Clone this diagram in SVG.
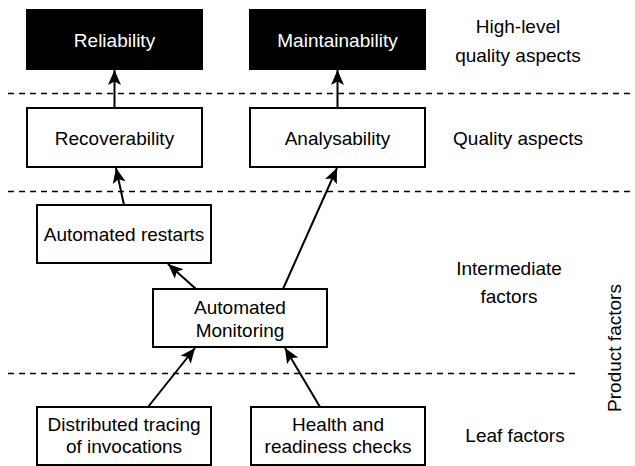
<svg xmlns="http://www.w3.org/2000/svg" width="635" height="466" viewBox="0 0 635 466">
<style>
.box{fill:#fff;stroke:#000;stroke-width:2}
.dark{fill:#000;stroke:#000;stroke-width:2}
text{font-family:"Liberation Sans",Arial,sans-serif;font-size:19px;text-anchor:middle;fill:#000}
.w{fill:#fff}
.sep{stroke:#000;stroke-width:1.6;stroke-dasharray:6 5;fill:none}
.edge{stroke:#000;stroke-width:2;fill:none;marker-end:url(#arr)}
</style>
<defs>
<marker id="arr" markerUnits="userSpaceOnUse" markerWidth="16" markerHeight="16" viewBox="0 0 16 16" refX="15" refY="8" orient="auto">
<path d="M0,1.5 L15,8 L0,14.5 L3.5,8 Z" fill="#000"/>
</marker>
</defs>
<g id="separators">
<line class="sep" x1="8" y1="93.5" x2="635" y2="93.5"/>
<line class="sep" x1="8" y1="191.5" x2="635" y2="191.5"/>
<line class="sep" x1="8" y1="373.5" x2="580" y2="373.5"/>
</g>
<g id="layer-labels">
<text x="518" y="33">High-level</text>
<text x="518" y="62">quality aspects</text>
<text x="518" y="145">Quality aspects</text>
<text x="509" y="275">Intermediate</text>
<text x="509" y="303">factors</text>
<text x="515" y="442">Leaf factors</text>
<text transform="translate(621,348) rotate(-90)">Product factors</text>
</g>
<g id="reliability">
<rect class="dark" x="27" y="10" width="175" height="59"/>
<text class="w" x="114.5" y="47">Reliability</text>
</g>
<g id="maintainability">
<rect class="dark" x="250" y="10" width="175" height="59"/>
<text class="w" x="337.5" y="47">Maintainability</text>
</g>
<g id="recoverability">
<rect class="box" x="27" y="108" width="175" height="59"/>
<text x="114.5" y="145">Recoverability</text>
</g>
<g id="analysability">
<rect class="box" x="250" y="108" width="175" height="59"/>
<text x="337.5" y="145">Analysability</text>
</g>
<g id="automated-restarts">
<rect class="box" x="37" y="205" width="174" height="58"/>
<text x="124" y="241">Automated restarts</text>
</g>
<g id="automated-monitoring">
<rect class="box" x="153" y="289" width="174" height="58"/>
<text x="240" y="314">Automated</text>
<text x="240" y="337">Monitoring</text>
</g>
<g id="distributed-tracing">
<rect class="box" x="37" y="407" width="174" height="58"/>
<text x="124" y="431">Distributed tracing</text>
<text x="124" y="453">of invocations</text>
</g>
<g id="health-checks">
<rect class="box" x="251" y="407" width="174" height="58"/>
<text x="338" y="431">Health and</text>
<text x="338" y="453">readiness checks</text>
</g>
<g id="connectors">
<line class="edge" x1="114.5" y1="108" x2="114.5" y2="70"/>
<line class="edge" x1="337.5" y1="108" x2="337.5" y2="70"/>
<line class="edge" x1="124" y1="205" x2="116" y2="168"/>
<line class="edge" x1="196" y1="289" x2="168" y2="264"/>
<line class="edge" x1="283" y1="289" x2="337" y2="168"/>
<line class="edge" x1="148" y1="407" x2="195" y2="348"/>
<line class="edge" x1="320" y1="407" x2="285" y2="348"/>
</g>
</svg>
